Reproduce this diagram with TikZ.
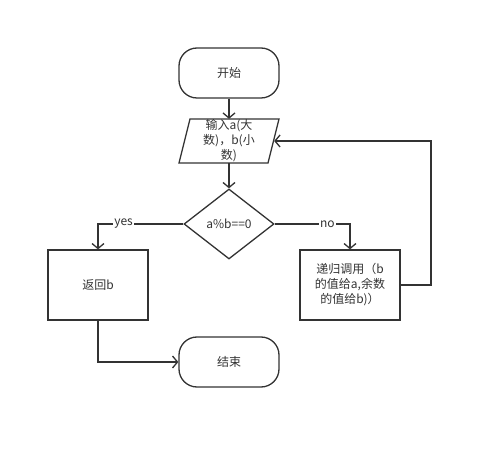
\documentclass[tikz,border=0pt]{standalone}
\usepackage{fontspec}
\setmainfont{Noto Sans CJK SC}
\usetikzlibrary{shapes.geometric,arrows.meta}
\definecolor{ln}{HTML}{333333}
\begin{document}
\begin{tikzpicture}[x=1pt,y=-1pt,
  every node/.style={font=\fontsize{12}{15}\selectfont, text=ln, align=center},
  base/.style={draw=ln, line width=1.3pt},
  term/.style={base, rectangle, rounded corners=18pt, minimum width=100pt, minimum height=50pt, inner sep=0pt},
  dec/.style={base, diamond, minimum width=90pt, minimum height=70pt, inner sep=0pt},
  proc/.style={base, rectangle, minimum width=100pt, minimum height=70pt, inner sep=0pt},
  conn/.style={draw=ln, line width=1.3pt, -{Straight Barb[length=5pt,width=12pt,line width=1.3pt]}},
  lab/.style={fill=white, inner sep=1pt}
]
\useasboundingbox (0,0) rectangle (491,449);
\node[term] (start) at (229,73) {开始};
\draw[base] (190,119) -- (279,119) -- (268,163) -- (179,163) -- cycle;
\node[minimum width=90pt, minimum height=44pt, inner sep=0pt] (in) at (229,141) {};
\node (intext) at (229,141) {输入a(大\\数)，b(小\\数)};
\node[dec] (d) at (229,224) {a\%b==0};
\node[proc] (ret) at (98,285) {返回b};
\node[proc] (rec) at (350,285) {递归调用（b\\的值给a,余数\\的值给b)）};
\node[term] (end) at (229,362) {结束};
\coordinate (c1) at (431,285);
\coordinate (c2) at (431,141);
\draw[conn] (start) -- (in);
\draw[conn] (in) -- (d);
\draw[conn] (d.west) -| node[lab, pos=0.35] {yes} (ret.north);
\draw[conn] (d.east) -| node[lab, pos=0.35] {no} (rec.north);
\draw[conn] (ret.south) |- (end.west);
\draw[conn] (rec.east) -- (c1) -- (c2) -- (in.east);
\end{tikzpicture}
\end{document}
